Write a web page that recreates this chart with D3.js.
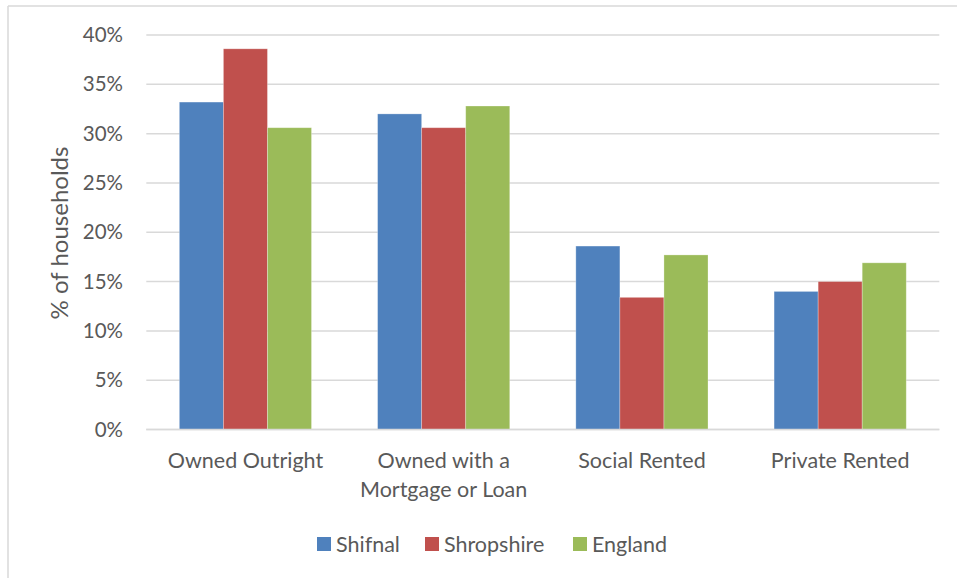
<!DOCTYPE html>
<html><head><meta charset="utf-8">
<script src="https://cdn.jsdelivr.net/npm/d3@7"></script>
<style>body{margin:0;background:#fff}svg{display:block;font-family:Lato,"Open Sans",sans-serif}</style>
</head><body><svg id="c" width="957" height="578"></svg>
<script>
const categories = [["Owned Outright"], ["Owned with a", "Mortgage or Loan"], ["Social Rented"], ["Private Rented"]];
const seriesNames = ["Shifnal", "Shropshire", "England"];
const shifnal = [33.2, 32.0, 18.6, 14.0];
const shropshire = [38.6, 30.6, 13.4, 15.0];
const england = [30.6, 32.8, 17.7, 16.9];
const yTicks = [0, 5, 10, 15, 20, 25, 30, 35, 40];
const colors = ["#4F81BD", "#C0504D", "#9BBB59"];
const seriesValues = [shifnal, shropshire, england];

const svg = d3.select("#c");
const pLeft = 146.3, pRight = 939.3, pTop = 35, pBottom = 429.5;
const fs = 21.5;

// outer border (top and left edges)
svg.append("line").attr("x1", 8).attr("x2", 957).attr("y1", 6).attr("y2", 6).attr("stroke", "#d9d9d9").attr("stroke-width", 1.5);
svg.append("line").attr("x1", 8).attr("x2", 8).attr("y1", 6).attr("y2", 578).attr("stroke", "#d9d9d9").attr("stroke-width", 1.5);

const y = d3.scaleLinear().domain([0, 40]).range([pBottom, pTop]);
const x0 = d3.scaleBand().domain(d3.range(categories.length)).range([pLeft, pRight]).padding(0);
const x1 = d3.scaleBand().domain(d3.range(seriesNames.length)).range([0, x0.bandwidth()]).paddingInner(0).paddingOuter(0.75);
const xc = i => x0(i) + x0.bandwidth() / 2;

// gridlines
svg.append("g").selectAll("line").data(yTicks).join("line")
  .attr("x1", pLeft).attr("x2", pRight)
  .attr("y1", d => y(d)).attr("y2", d => y(d))
  .attr("stroke", "#d9d9d9").attr("stroke-width", 1.5);

// y tick labels
svg.append("g").selectAll("text").data(yTicks).join("text")
  .attr("x", 123).attr("y", d => y(d)).attr("dy", "0.35em")
  .attr("text-anchor", "end").attr("fill", "#595959").attr("font-size", 20.5)
  .text(d => d + "%");

// bars
seriesValues.forEach((vals, s) => {
  svg.append("g").selectAll("rect").data(vals).join("rect")
    .attr("x", (d, i) => x0(i) + x1(s))
    .attr("width", x1.bandwidth())
    .attr("y", d => y(d))
    .attr("height", d => y(0) - y(d))
    .attr("fill", colors[s])
    .attr("stroke", "#ffffff").attr("stroke-opacity", 0.35).attr("stroke-width", 0.8);
});

// baseline
svg.append("line").attr("x1", pLeft).attr("x2", pRight).attr("y1", y(0)).attr("y2", y(0)).attr("stroke", "#d9d9d9").attr("stroke-width", 1.5);

// category labels
categories.forEach((lines, i) => {
  const t = svg.append("text").attr("text-anchor", "middle").attr("fill", "#595959").attr("font-size", fs);
  lines.forEach((l, k) => t.append("tspan").attr("x", xc(i)).attr("y", 468 + k * 29).text(l));
});

// y axis title
svg.append("text").attr("transform", "translate(68,233) rotate(-90)")
  .attr("text-anchor", "middle").attr("fill", "#595959").attr("font-size", 24)
  .text("% of households");

// legend
const legendX = [317, 425, 573];
seriesNames.forEach((n, s) => {
  svg.append("rect").attr("x", legendX[s]).attr("y", 537).attr("width", 14).attr("height", 14).attr("fill", colors[s]);
  svg.append("text").attr("x", legendX[s] + 19).attr("y", 544).attr("dy", "0.35em")
    .attr("fill", "#595959").attr("font-size", fs).text(n);
});
</script></body></html>
